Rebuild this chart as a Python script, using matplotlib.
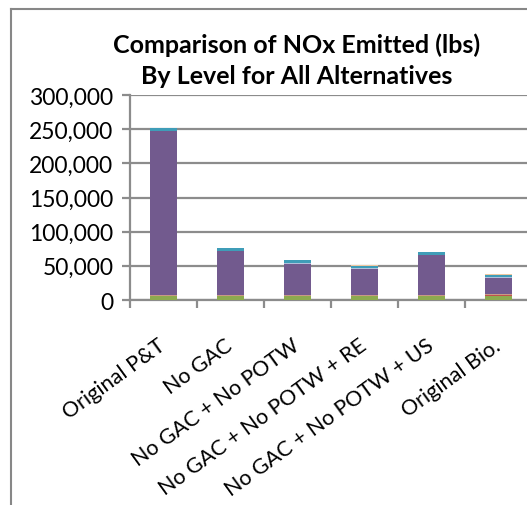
import numpy as np
import matplotlib
matplotlib.use("Agg")
import matplotlib.pyplot as plt
from matplotlib.lines import Line2D
from matplotlib.ticker import FuncFormatter, FixedLocator
from matplotlib.transforms import ScaledTranslation

plt.rcParams["font.family"] = ["Lato", "DejaVu Sans"]

alternatives = ["Original P&T", "No GAC", "No GAC + No POTW", "No GAC + No POTW + RE",
                "No GAC + No POTW + US", "Original Bio."]

# stacked levels, bottom to top (lbs NOx)
level_green = [5500, 5500, 5500, 5500, 5500, 5500]
level_red = [1000, 1000, 1000, 1000, 1000, 2500]
level_tan = [1500, 1500, 1500, 1500, 1500, 1500]
level_purple = [239500, 63300, 45400, 38000, 57400, 22800]
level_pale = [500, 800, 1000, 500, 800, 1500]
level_teal = [3500, 3700, 3800, 3400, 3400, 3500]
level_orange = [300, 500, 400, 700, 800, 200]

levels = [level_green, level_red, level_tan, level_purple, level_pale, level_teal, level_orange]
colors = ["#8DAA4F", "#C0504D", "#C89A86", "#725A8E", "#AFC0DC", "#3F9DB8", "#F0C8A0"]

fig = plt.figure(figsize=(5.27, 5.06), dpi=100)
ax = fig.add_axes([130 / 527, 205 / 506, 402 / 527, 205 / 506])

x = np.arange(len(alternatives))
bottom = np.zeros(len(alternatives))
for vals, col in zip(levels, colors):
    vals = np.array(vals, dtype=float)
    ax.bar(x, vals, width=0.4, bottom=bottom, color=col, linewidth=0, zorder=3)
    bottom += vals

ax.set_xlim(-0.5, len(alternatives) - 0.5)
ax.set_ylim(0, 300000)
ax.set_yticks(np.arange(0, 300001, 50000))
ax.yaxis.set_major_formatter(FuncFormatter(lambda v, p: f"{int(v):,}"))
ax.grid(axis="y", color="#8C8C8C", linewidth=1.6, zorder=0)

ax.set_xticks(x)
ax.set_xticklabels(alternatives, rotation=36, ha="right", va="center",
                   rotation_mode="anchor", fontsize=15.5)
shift = ScaledTranslation(4 / 100, 0, fig.dpi_scale_trans)
for lab in ax.get_xticklabels():
    lab.set_transform(lab.get_transform() + shift)
ax.xaxis.set_minor_locator(FixedLocator(np.arange(-0.5, len(alternatives), 1.0)))
ax.tick_params(axis="x", which="major", length=0, pad=31)
ax.tick_params(axis="x", which="minor", length=6, width=1.6, color="#8C8C8C")
ax.tick_params(axis="y", length=6, width=1.6, color="#8C8C8C", labelsize=16.5, pad=6)

for side in ["top", "right"]:
    ax.spines[side].set_visible(False)
for side in ["left", "bottom"]:
    ax.spines[side].set_color("#8C8C8C")
    ax.spines[side].set_linewidth(1.6)

fig.text(297 / 527, 1 - 45 / 506, "Comparison of NOx Emitted (lbs)", ha="center", va="center",
         fontsize=18, fontweight="bold")
fig.text(297 / 527, 1 - 76 / 506, "By Level for All Alternatives", ha="center", va="center",
         fontsize=18, fontweight="bold")

# chart area border (partly cropped)
fig.add_artist(Line2D([11 / 527, 11 / 527], [0, 1 - 10 / 506], color="#878787", linewidth=1.5))
fig.add_artist(Line2D([11 / 527, 1], [1 - 10 / 506, 1 - 10 / 506], color="#878787", linewidth=1.5))

fig.savefig("out.png", dpi=100)
